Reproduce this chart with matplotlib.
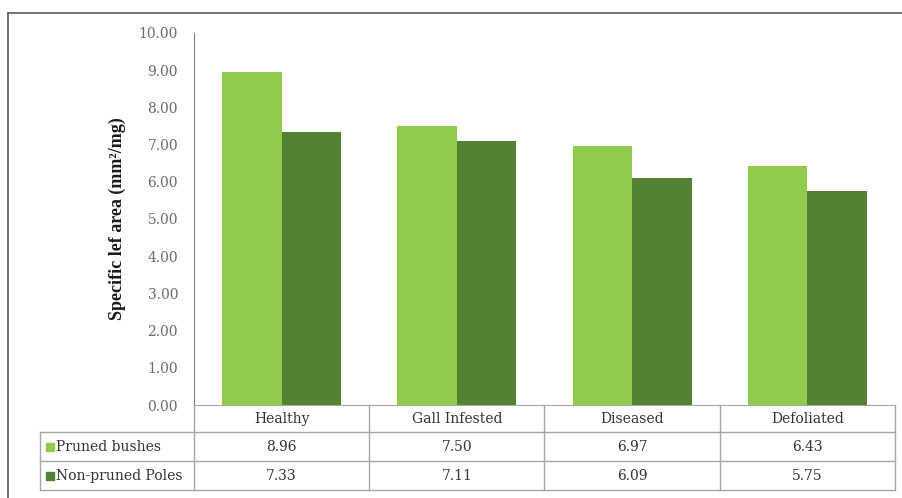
import numpy as np
import matplotlib
matplotlib.use("Agg")
import matplotlib.pyplot as plt
from matplotlib.lines import Line2D
from matplotlib.patches import Rectangle

categories = ["Healthy", "Gall Infested", "Diseased", "Defoliated"]
series_names = ["Pruned bushes", "Non-pruned Poles"]
pruned = [8.96, 7.50, 6.97, 6.43]
non_pruned = [7.33, 7.11, 6.09, 5.75]
colors = ["#8fcc4c", "#538234"]
yticks = np.arange(0, 11, 1)

plt.rcParams['font.family'] = ['DejaVu Serif']

W, H = 903, 498
fig = plt.figure(figsize=(W / 100, H / 100), dpi=100)

def fx(px):
    return px / W

def fy(py):
    return 1 - py / H

x0, x1, ytop, ybot = 194, 895, 33, 405
ax = fig.add_axes([fx(x0), fy(ybot), fx(x1) - fx(x0), fy(ytop) - fy(ybot)])

n = len(categories)
x = np.arange(n)
bw = 0.34
ax.bar(x - bw / 2, pruned, bw, color=colors[0])
ax.bar(x + bw / 2, non_pruned, bw, color=colors[1])
ax.set_xlim(-0.5, n - 0.5)
ax.set_ylim(0, 10)
ax.set_yticks(yticks)
ax.set_yticklabels(["%.2f" % v for v in yticks], color="#6b6b6b", fontsize=10)
ax.tick_params(axis='y', length=0, pad=11.5)
ax.set_xticks([])
for s in ["top", "right"]:
    ax.spines[s].set_visible(False)
ax.spines["left"].set_color("#7f7f7f")
ax.spines["bottom"].set_color("#a6a6a6")
ax.set_ylabel("Specific lef area (mm²/mg)", fontweight="bold", fontsize=13,
              family=["Liberation Serif"], labelpad=9, color="#1a1a1a")

# data table under the axis
gc = "#a6a6a6"
tc = "#333333"
col_edges = np.linspace(x0, x1, n + 1)
row_edges = [405, 432, 461, 490]
lab_left = 40

def hline(xa, xb, y):
    fig.add_artist(Line2D([fx(xa), fx(xb)], [fy(y), fy(y)], color=gc, lw=1))

def vline(xp, ya, yb):
    fig.add_artist(Line2D([fx(xp), fx(xp)], [fy(ya), fy(yb)], color=gc, lw=1))

for r in row_edges[1:]:
    hline(lab_left, x1, r)
for c in col_edges:
    vline(c, row_edges[0], row_edges[-1])
vline(lab_left, row_edges[1], row_edges[-1])

for i, cat in enumerate(categories):
    cx = (col_edges[i] + col_edges[i + 1]) / 2
    fig.text(fx(cx), fy((row_edges[0] + row_edges[1]) / 2), cat,
             ha="center", va="center", fontsize=10, color=tc)
    for j, vals in enumerate([pruned, non_pruned]):
        fig.text(fx(cx), fy((row_edges[j + 1] + row_edges[j + 2]) / 2), "%.2f" % vals[i],
                 ha="center", va="center", fontsize=10, color=tc)

for j, name in enumerate(series_names):
    cy = (row_edges[j + 1] + row_edges[j + 2]) / 2
    fig.add_artist(Rectangle((fx(46), fy(cy + 4)), fx(8), fy(0) - fy(8),
                             color=colors[j]))
    fig.text(fx(56), fy(cy), name, ha="left", va="center", fontsize=10, color=tc)

# outer frame
fig.add_artist(Line2D([fx(8), fx(8)], [fy(13), fy(500)], color="#595959", lw=1.2))
fig.add_artist(Line2D([fx(8), fx(905)], [fy(13), fy(13)], color="#595959", lw=1.2))

fig.savefig("out.png", dpi=100)
